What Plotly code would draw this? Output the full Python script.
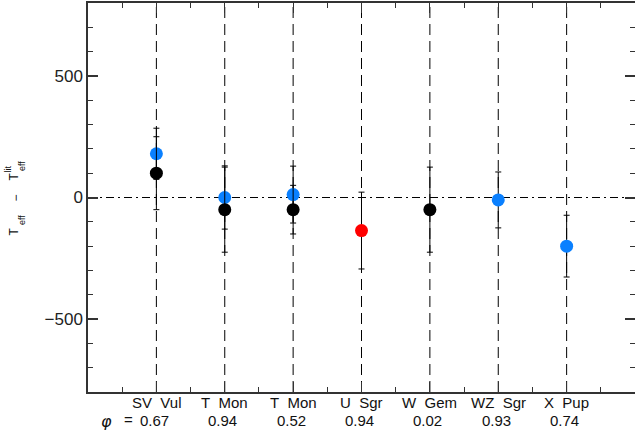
import plotly.graph_objects as go

# ---- data ----
stars = ["SV Vul", "T Mon", "T Mon", "U Sgr", "W Gem", "WZ Sgr", "X Pup"]
phases = ["0.67", "0.94", "0.52", "0.94", "0.02", "0.93", "0.74"]
positions = [1, 2, 3, 4, 5, 6, 7]

blue_x = [1, 2, 3, 6, 7]
blue_y = [180, 0, 12, -10, -200]
blue_err = [105, 130, 117, 115, 127]

black_x = [1, 2, 3, 5]
black_y = [100, -50, -50, -50]
black_err = [150, 175, 100, 175]

red_x = [4]
red_y = [-136]
red_err = [158]

y_major = [-500, 0, 500]
y_minor = [v for v in range(-800, 801, 100) if v not in (-500, 0, 500)]
x_minor = [0.5, 1.5, 2.5, 3.5, 4.5, 5.5, 6.5, 7.5]

FONT = "Liberation Sans"
BLUE = "#0a80ff"

fig = go.Figure()

def add_series(xs, ys, errs, color):
    fig.add_trace(go.Scatter(
        x=xs, y=ys, mode="markers",
        marker=dict(color=color, size=13, line=dict(width=0)),
        error_y=dict(type="data", array=errs, visible=True,
                     color="black", thickness=1, width=3),
        showlegend=False, hoverinfo="skip"))

add_series(blue_x, blue_y, blue_err, BLUE)
add_series(black_x, black_y, black_err, "black")
add_series(red_x, red_y, red_err, "#ff0000")

shapes = []
for p in positions:
    shapes.append(dict(type="line", xref="x", yref="paper", x0=p, x1=p, y0=0, y1=1,
                       line=dict(color="black", width=1, dash="11px,6px"), layer="below"))
shapes.append(dict(type="line", xref="paper", yref="y", x0=0, x1=1, y0=0, y1=0,
                   line=dict(color="black", width=1, dash="8px,4px,2px,4px"), layer="below"))

annotations = []
# x labels: star names and phases
for p, s, ph in zip(positions, stars, phases):
    annotations.append(dict(x=p, xref="x", y=0, yref="paper", text=s.replace(" ", "\u00a0\u00a0"),
                            showarrow=False, xanchor="center", yanchor="middle", yshift=-10,
                            font=dict(family=FONT, size=15, color="#111")))
    annotations.append(dict(x=p, xref="x", y=0, yref="paper", text=ph,
                            showarrow=False, xanchor="center", yanchor="middle", yshift=-28, xshift=-2,
                            font=dict(family=FONT, size=15, color="#111")))
annotations.append(dict(x=0, xref="paper", y=0, yref="paper", text="<i>φ</i>", showarrow=False,
                        xanchor="center", yanchor="middle", xshift=18, yshift=-29,
                        font=dict(family="DejaVu Sans", size=16, color="#111")))
annotations.append(dict(x=0, xref="paper", y=0, yref="paper", text="=", showarrow=False,
                        xanchor="center", yanchor="middle", xshift=40, yshift=-27,
                        font=dict(family=FONT, size=15, color="#111")))

# y label pieces (rotated)
def ylab(text, cx, cy, size):
    annotations.append(dict(x=0, xref="paper", y=0.5, yref="paper", text=text, showarrow=False,
                            textangle=-90, xanchor="center", yanchor="middle",
                            xshift=cx - 88, yshift=197.5 - cy,
                            font=dict(family=FONT, size=size, color="#111")))

ylab("T", 13.5, 232, 12)
ylab("eff", 22, 220, 9)
ylab("−", 15.5, 198, 12)
ylab("T", 13.5, 177, 12)
ylab("lit", 7.5, 169, 9)
ylab("eff", 22, 166, 9)

axis_line = dict(showline=True, linecolor="#333", linewidth=1.5, mirror="allticks",
                 ticks="inside", tickcolor="#333", showgrid=False, zeroline=False)

fig.update_layout(
    width=637, height=432,
    margin=dict(l=88, r=0, t=3, b=40),
    paper_bgcolor="white", plot_bgcolor="white",
    shapes=shapes, annotations=annotations,
    xaxis=dict(range=[0, 8], tickvals=positions, showticklabels=False,
               ticklen=10, tickwidth=1,
               minor=dict(tickvals=x_minor, ticks="inside", ticklen=5, tickcolor="#333", tickwidth=1),
               **axis_line),
    yaxis=dict(range=[-800, 800], tickvals=y_major, ticktext=["−500", "0", "500"],
               ticklen=10, tickwidth=1.5,
               minor=dict(tickvals=y_minor, ticks="inside", ticklen=5, tickcolor="#333", tickwidth=1),
               tickfont=dict(family=FONT, size=17, color="#222"),
               **axis_line),
)

fig.write_html("out.html", config={"displayModeBar": False},
               post_script="document.body.style.margin='0';document.body.style.overflow='hidden';")
